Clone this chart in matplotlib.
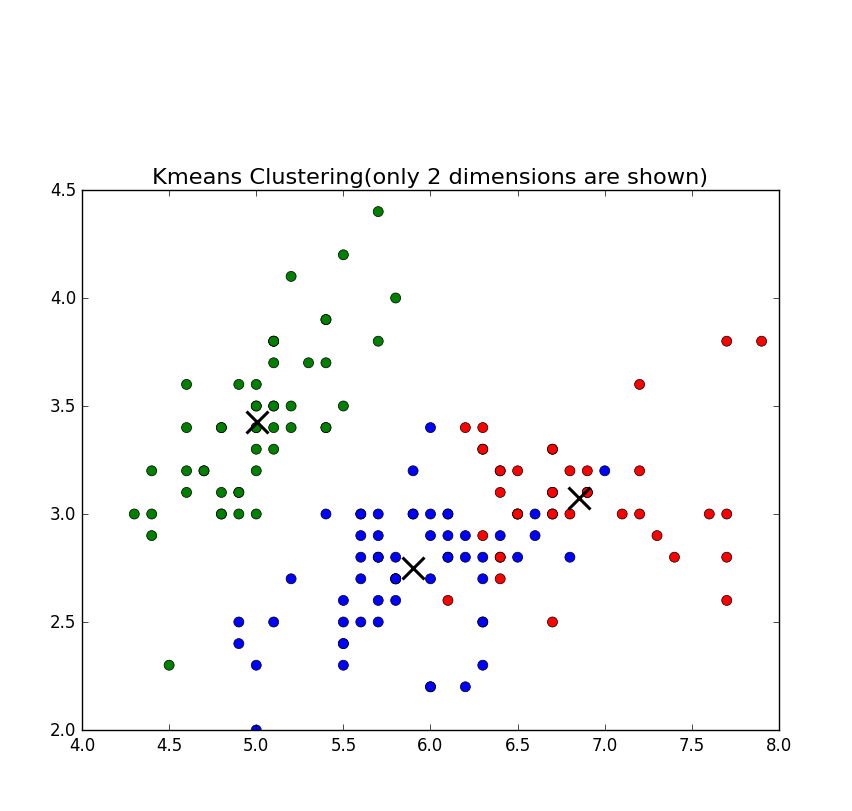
import matplotlib
matplotlib.use('Agg')
import matplotlib.pyplot as plt
import numpy as np

plt.style.use('classic')

# iris sepal length / sepal width, with the kmeans cluster of each sample
sepal_length = [
    5.1, 4.9, 4.7, 4.6, 5.0, 5.4, 4.6, 5.0, 4.4, 4.9, 5.4, 4.8, 4.8, 4.3, 5.8, 5.7, 5.4,
    5.1, 5.7, 5.1, 5.4, 5.1, 4.6, 5.1, 4.8, 5.0, 5.0, 5.2, 5.2, 4.7, 4.8, 5.4, 5.2, 5.5,
    4.9, 5.0, 5.5, 4.9, 4.4, 5.1, 5.0, 4.5, 4.4, 5.0, 5.1, 4.8, 5.1, 4.6, 5.3, 5.0,
    7.0, 6.4, 6.9, 5.5, 6.5, 5.7, 6.3, 4.9, 6.6, 5.2, 5.0, 5.9, 6.0, 6.1, 5.6, 6.7, 5.6,
    5.8, 6.2, 5.6, 5.9, 6.1, 6.3, 6.1, 6.4, 6.6, 6.8, 6.7, 6.0, 5.7, 5.5, 5.5, 5.8, 6.0,
    5.4, 6.0, 6.7, 6.3, 5.6, 5.5, 5.5, 6.1, 5.8, 5.0, 5.6, 5.7, 5.7, 6.2, 5.1, 5.7,
    6.3, 5.8, 7.1, 6.3, 6.5, 7.6, 4.9, 7.3, 6.7, 7.2, 6.5, 6.4, 6.8, 5.7, 5.8, 6.4, 6.5,
    7.7, 7.7, 6.0, 6.9, 5.6, 7.7, 6.3, 6.7, 7.2, 6.2, 6.1, 6.4, 7.2, 7.4, 7.9, 6.4, 6.3,
    6.1, 7.7, 6.3, 6.4, 6.0, 6.9, 6.7, 6.9, 5.8, 6.8, 6.7, 6.7, 6.3, 6.5, 6.2, 5.9,
]
sepal_width = [
    3.5, 3.0, 3.2, 3.1, 3.6, 3.9, 3.4, 3.4, 2.9, 3.1, 3.7, 3.4, 3.0, 3.0, 4.0, 4.4, 3.9,
    3.5, 3.8, 3.8, 3.4, 3.7, 3.6, 3.3, 3.4, 3.0, 3.4, 3.5, 3.4, 3.2, 3.1, 3.4, 4.1, 4.2,
    3.1, 3.2, 3.5, 3.6, 3.0, 3.4, 3.5, 2.3, 3.2, 3.5, 3.8, 3.0, 3.8, 3.2, 3.7, 3.3,
    3.2, 3.2, 3.1, 2.3, 2.8, 2.8, 3.3, 2.4, 2.9, 2.7, 2.0, 3.0, 2.2, 2.9, 2.9, 3.1, 3.0,
    2.7, 2.2, 2.5, 3.2, 2.8, 2.5, 2.8, 2.9, 3.0, 2.8, 3.0, 2.9, 2.6, 2.4, 2.4, 2.7, 2.7,
    3.0, 3.4, 3.1, 2.3, 3.0, 2.5, 2.6, 3.0, 2.6, 2.3, 2.7, 3.0, 2.9, 2.9, 2.5, 2.8,
    3.3, 2.7, 3.0, 2.9, 3.0, 3.0, 2.5, 2.9, 2.5, 3.6, 3.2, 2.7, 3.0, 2.5, 2.8, 3.2, 3.0,
    3.8, 2.6, 2.2, 3.2, 2.8, 2.8, 2.7, 3.3, 3.2, 2.8, 3.0, 2.8, 3.0, 2.8, 3.8, 2.8, 2.8,
    2.6, 3.0, 3.4, 3.1, 3.0, 3.1, 3.1, 3.1, 2.7, 3.2, 3.3, 3.0, 2.5, 3.0, 3.4, 3.0,
]
labels = [1] * 50 + [
    0, 0, 2, 0, 0, 0, 0, 0, 0, 0, 0, 0, 0, 0, 0, 0, 0, 0, 0, 0, 0, 0, 0, 0, 0,
    0, 0, 2, 0, 0, 0, 0, 0, 0, 0, 0, 0, 0, 0, 0, 0, 0, 0, 0, 0, 0, 0, 0, 0, 0,
    2, 0, 2, 2, 2, 2, 0, 2, 2, 2, 2, 2, 2, 0, 0, 2, 2, 2, 2, 0, 2, 0, 2, 0, 2,
    2, 0, 0, 2, 2, 2, 2, 2, 0, 2, 2, 2, 2, 0, 2, 2, 2, 0, 2, 2, 2, 0, 2, 2, 0,
]
cluster_colors = ['b', 'g', 'r']

x = np.array(sepal_length)
y = np.array(sepal_width)
lab = np.array(labels)

fig = plt.figure(figsize=(8.52, 8.12), dpi=100, facecolor='white')
ax = fig.add_axes([82 / 852, 1 - 731 / 812, (779 - 82) / 852, (731 - 191) / 812])

ax.scatter(x, y, c=[cluster_colors[k] for k in labels], s=52,
           edgecolors='k', linewidths=0.5, zorder=2)

# centroids of each cluster
cx = [x[lab == k].mean() for k in range(3)]
cy = [y[lab == k].mean() for k in range(3)]
ax.scatter(cx, cy, marker='x', s=250, c='k', linewidths=2.2, zorder=3)

ax.set_xlim(4.0, 8.0)
ax.set_ylim(2.0, 4.5)
ax.set_xticks(np.arange(4.0, 8.01, 0.5))
ax.set_yticks(np.arange(2.0, 4.51, 0.5))
ax.tick_params(labelsize=12)
ax.set_title('Kmeans Clustering(only 2 dimensions are shown)', fontsize=16.2)

fig.savefig('out.png', dpi=100, facecolor='white')
